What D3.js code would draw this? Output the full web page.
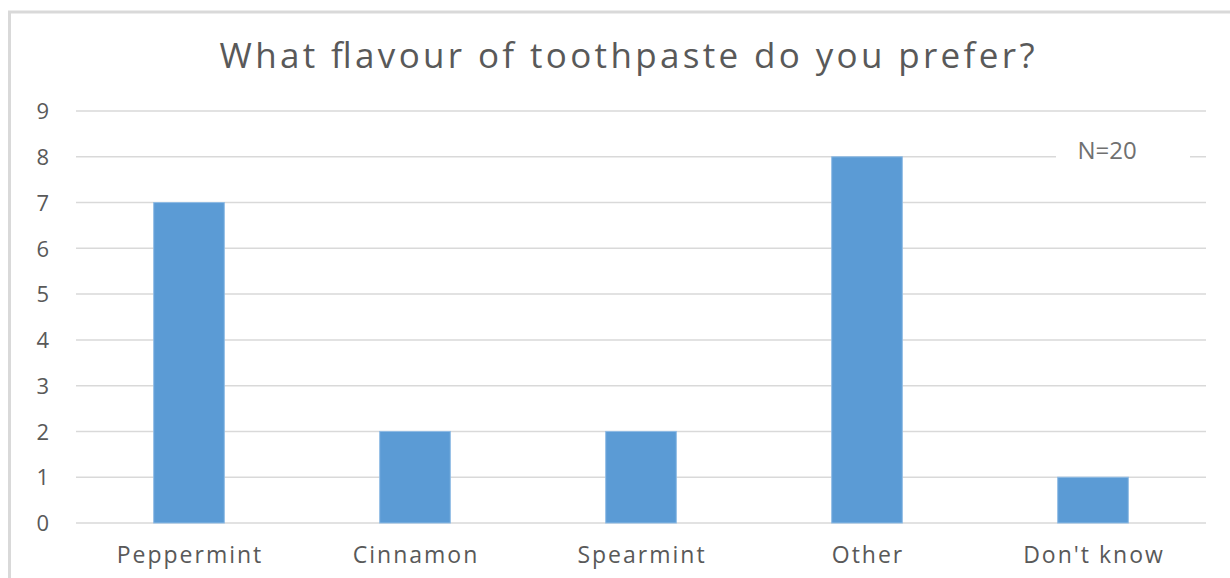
<!DOCTYPE html>
<html>
<head>
<meta charset="utf-8">
<script src="https://cdn.jsdelivr.net/npm/d3@7"></script>
<style>
	body{margin:0;background:#fff;}
	text{font-family:"Open Sans","Noto Sans",sans-serif;}
</style>
</head>
<body>
<div id="graph"></div>
<script>
// data
var categories=["Peppermint","Cinnamon","Spearmint","Other","Don't know"];
var counts=[7,2,2,8,1];
var yTicks=[0,1,2,3,4,5,6,7,8,9];
var titleText="What flavour of toothpaste do you prefer?";
var noteText="N=20";

// globals
width=1230;
height=578;
plot={left:76,right:1206,top:111,bottom:523};

main=function(){

	$svg=d3.select('#graph').append('svg')
		.attr('width',width).attr('height',height);

	// chart frame (only left and top visible in the crop)
	$svg.append('rect')
		.attr('x',9.5).attr('y',12)
		.attr('width',width+20).attr('height',height+20)
		.attr('fill','#fff')
		.attr('stroke','#d9d9d9')
		.attr('stroke-width',3);

	x=d3.scaleBand()
		.domain(categories)
		.range([plot.left,plot.right])
		.paddingInner(0.6875)
		.paddingOuter(0.34375);

	y=d3.scaleLinear()
		.domain([0,9])
		.range([plot.bottom,plot.top]);

	// gridlines
	$svg.append('g').attr('id','grid')
		.selectAll('line').data(yTicks).enter()
		.append('line')
		.attr('x1',plot.left).attr('x2',plot.right)
		.attr('y1',function(d){return y(d)})
		.attr('y2',function(d){return y(d)})
		.attr('stroke','#d9d9d9')
		.attr('stroke-width',1.5);

	// y axis labels
	yAxis=d3.axisLeft(y).tickValues(yTicks).tickSize(0).tickPadding(0);
	$ya=$svg.append('g')
		.attr('transform','translate(49,0)')
		.call(yAxis);
	$ya.select('.domain').remove();
	$ya.selectAll('text')
		.attr('font-size','22px')
		.attr('font-family','"Open Sans","Noto Sans",sans-serif')
		.attr('fill','#595959')
		.attr('dy','0.35em');

	// bars
	$svg.append('g').attr('id','bars')
		.selectAll('rect').data(counts).enter()
		.append('rect')
		.attr('x',function(d,i){return x(categories[i])})
		.attr('y',function(d){return y(d)})
		.attr('width',x.bandwidth())
		.attr('height',function(d){return y(0)-y(d)})
		.attr('fill','#5b9bd5')
		.attr('stroke','#8fbbe4')
		.attr('stroke-width',1);

	// x axis labels (reference text is spaced out a little)
	xAxis=d3.axisBottom(x).tickSize(0).tickPadding(0);
	$xa=$svg.append('g')
		.attr('transform','translate(1,563)')
		.call(xAxis);
	$xa.select('.domain').remove();
	$xa.selectAll('text')
		.attr('dy',0)
		.attr('font-size','23px')
		.attr('font-family','"Open Sans","Noto Sans",sans-serif')
		.attr('letter-spacing','2px')
		.attr('fill','#595959');

	// title
	$svg.append('text')
		.attr('x',627).attr('y',68)
		.attr('text-anchor','middle')
		.attr('font-size','35px')
		.attr('textLength',815)
		.attr('lengthAdjust','spacing')
		.attr('fill','#595959')
		.text(titleText);

	// N=20 note with white box covering the gridline
	$svg.append('rect')
		.attr('x',1056).attr('y',132)
		.attr('width',134).attr('height',40)
		.attr('fill','#fff');
	$svg.append('text')
		.attr('x',1107).attr('y',159)
		.attr('text-anchor','middle')
		.attr('font-size','24px')
		.attr('fill','#707070')
		.text(noteText);
};

main();
</script>
</body>
</html>
